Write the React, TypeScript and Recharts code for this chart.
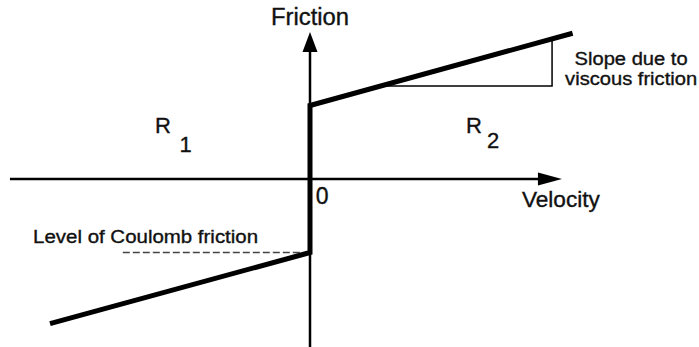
import { ComposedChart, Line, Scatter, ReferenceDot, XAxis, YAxis } from "recharts";

// Friction vs velocity schematic: Coulomb step at v=0 plus a viscous slope on each side.
// Units are arbitrary; the scale is fixed so the drawing sits where the reference has it.

const W = 699;
const H = 347;
const PX_V = 26; // px per velocity unit
const PX_F = 24.5; // px per friction unit
const ORIGIN_X = 310;
const ORIGIN_Y = 179;
const V_DOMAIN = [-ORIGIN_X / PX_V, (W - ORIGIN_X) / PX_V];
const F_DOMAIN = [-(H - ORIGIN_Y) / PX_F, ORIGIN_Y / PX_F];

// friction curve (negative branch, step, positive branch)
const CURVE_V = [-10, 0, 0, 10.1];
const CURVE_F = [-5.9, -3, 3, 5.95];
// slope triangle under the positive branch
const SLOPE_V = [2.9, 9.31, 9.31];
const SLOPE_F = [3.8, 3.8, 5.72];
// dashed Coulomb level
const COULOMB_V = [-7.2, -0.3];
const COULOMB_F = [-3, -3];
// axes and their arrow tips
const H_AXIS_V = [-11.54, 9.2];
const H_AXIS_F = [0, 0];
const V_AXIS_V = [0, 0];
const V_AXIS_F = [-6.86, 5.5];
const TIP_V = [9.69, 0];
const TIP_F = [0, 6.0];
const TIP_DIR = ["right", "up"];

const Y_TITLE = "Friction";
const X_TITLE = "Velocity";
const ZERO = "0";
const SLOPE_NOTE = ["Slope due to", "viscous friction"];
const COULOMB_NOTE = "Level of Coulomb friction";
const REGIONS = ["1", "2"];

const zip = (vs: number[], fs: number[]) => vs.map((v, i) => ({ v, f: fs[i] }));

const FONT = '"Liberation Sans", Arial, Helvetica, sans-serif';
const INK = "#111";

function Arrowhead(props: any) {
  const { cx, cy, payload } = props;
  const pts =
    payload.dir === "right"
      ? `${cx},${cy} ${cx - 24},${cy - 6.5} ${cx - 24},${cy + 6.5}`
      : `${cx},${cy} ${cx - 7.5},${cy + 20} ${cx + 7.5},${cy + 20}`;
  return <polygon points={pts} fill="#000" />;
}

// the scan makes the lettering a bit heavier than a plain regular face
const txt =
  (s: string, size: number, anchor: "start" | "middle" | "end" = "start", len?: number) =>
  (p: any) => (
    <text
      x={p.cx}
      y={p.cy}
      fontFamily={FONT}
      fontSize={size}
      textAnchor={anchor}
      fill={INK}
      stroke={INK}
      strokeWidth={0.35}
      textLength={len}
      lengthAdjust={len ? "spacingAndGlyphs" : undefined}
    >
      {s}
    </text>
  );

const region = (sub: string, dx: number, dy: number) => (p: any) => (
  <text x={p.cx} y={p.cy} fontFamily={FONT} fontSize={22} fill={INK} stroke={INK} strokeWidth={0.35}>
    R
    <tspan dx={dx} dy={dy}>
      {sub}
    </tspan>
  </text>
);

export default function App() {
  const tips = TIP_V.map((v, i) => ({ v, f: TIP_F[i], dir: TIP_DIR[i] }));
  return (
    <div style={{ position: "absolute", left: 0, top: 0, width: W, height: H, background: "#fff" }}>
      <ComposedChart width={W} height={H} margin={{ top: 0, right: 0, bottom: 0, left: 0 }}>
        <XAxis type="number" dataKey="v" domain={V_DOMAIN} allowDataOverflow hide />
        <YAxis type="number" dataKey="f" domain={F_DOMAIN} allowDataOverflow hide />

        <Line data={zip(H_AXIS_V, H_AXIS_F)} dataKey="f" stroke="#000" strokeWidth={2.5} dot={false} activeDot={false} isAnimationActive={false} />
        <Line data={zip(V_AXIS_V, V_AXIS_F)} dataKey="f" stroke="#000" strokeWidth={2.5} dot={false} activeDot={false} isAnimationActive={false} />
        <Scatter data={tips} dataKey="f" shape={Arrowhead} isAnimationActive={false} />

        <Line data={zip(COULOMB_V, COULOMB_F)} dataKey="f" stroke="#444" strokeWidth={1.5} strokeDasharray="7 3" dot={false} activeDot={false} isAnimationActive={false} />
        <Line data={zip(SLOPE_V, SLOPE_F)} dataKey="f" stroke="#000" strokeWidth={1.5} dot={false} activeDot={false} isAnimationActive={false} />
        <Line data={zip(CURVE_V, CURVE_F)} dataKey="f" stroke="#000" strokeWidth={5} strokeLinejoin="miter" dot={false} activeDot={false} isAnimationActive={false} />

        <ReferenceDot x={0} y={6.29} r={0} shape={txt(Y_TITLE, 23, "middle", 78)} />
        <ReferenceDot x={9.65} y={-1.14} r={0} shape={txt(X_TITLE, 22, "middle", 78)} />
        <ReferenceDot x={0.22} y={-1.02} r={0} shape={txt(ZERO, 23)} />
        <ReferenceDot x={12.35} y={4.65} r={0} shape={txt(SLOPE_NOTE[0], 17.5, "middle", 113)} />
        <ReferenceDot x={12.35} y={3.84} r={0} shape={txt(SLOPE_NOTE[1], 17.5, "middle", 132)} />
        <ReferenceDot x={-10.65} y={-2.61} r={0} shape={txt(COULOMB_NOTE, 18, "start", 225)} />
        <ReferenceDot x={-5.96} y={1.88} r={0} shape={region(REGIONS[0], 8.5, 19)} />
        <ReferenceDot x={6.0} y={1.88} r={0} shape={region(REGIONS[1], 5, 15)} />
      </ComposedChart>
    </div>
  );
}
